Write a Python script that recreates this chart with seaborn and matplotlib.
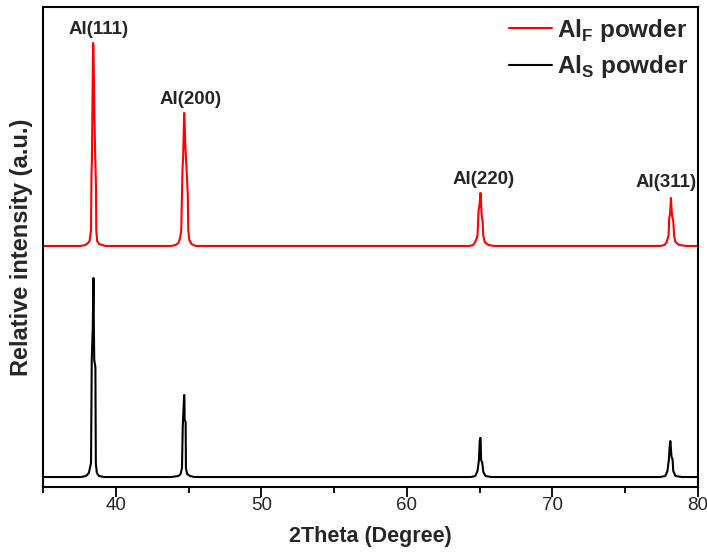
import numpy as np
import pandas as pd
import matplotlib
matplotlib.use("Agg")
import matplotlib.pyplot as plt
import matplotlib.transforms as mtransforms
import seaborn as sns
from matplotlib.ticker import MultipleLocator

# ---- data (intensity in arbitrary units) ----
two_theta_F = [35.0,
               37.6, 37.9, 38.1, 38.2, 38.3, 38.33, 38.36, 38.44, 38.47, 38.52, 38.58, 38.64, 38.66, 38.72, 38.85, 39.3,
               43.8, 44.1, 44.3, 44.42, 44.5, 44.58, 44.63, 44.7, 44.72, 44.78, 44.88, 44.95, 44.98, 45.05, 45.2, 45.5,
               64.3, 64.55, 64.7, 64.85, 64.92, 64.98, 65.06, 65.09, 65.13, 65.2, 65.25, 65.35, 65.6, 66.0,
               77.4, 77.7, 77.85, 77.98, 78.02, 78.08, 78.14, 78.17, 78.22, 78.3, 78.36, 78.45, 78.7, 79.2,
               80.0]
intensity_F = [0,
               0, 1, 3, 5, 16, 70, 85, 203, 200, 140, 95, 60, 16, 5, 2, 0,
               0, 1, 3, 8, 16, 75, 90, 133, 128, 100, 72, 50, 16, 6, 2, 0,
               0, 1, 4, 10, 35, 40, 53, 45, 32, 25, 10, 4, 1, 0,
               0, 1, 4, 11, 28, 32, 48, 40, 30, 25, 10, 4, 1, 0,
               0]

two_theta_S = [35.0,
               37.6, 37.95, 38.15, 38.3, 38.35, 38.42, 38.47, 38.49, 38.52, 38.6, 38.63, 38.7, 38.85, 39.2,
               43.8, 44.3, 44.45, 44.55, 44.6, 44.66, 44.7, 44.72, 44.73, 44.8, 44.82, 44.9, 45.1, 45.4,
               64.4, 64.7, 64.85, 64.95, 65.0, 65.03, 65.06, 65.1, 65.18, 65.25, 65.4, 65.8,
               77.4, 77.75, 77.9, 78.0, 78.05, 78.1, 78.13, 78.18, 78.25, 78.3, 78.45, 78.9,
               80.0]
intensity_S = [0,
               0, 1, 4, 14, 117, 150, 199, 160, 117, 110, 14, 4, 1, 0,
               0, 1, 3, 9, 50, 70, 82, 75, 57, 55, 9, 3, 1, 0,
               0, 1, 6, 17, 35, 39, 39, 17, 14, 5, 1, 0,
               0, 1, 6, 18, 30, 36, 30, 20, 18, 6, 1, 0,
               0]

offset_F = 231  # vertical stacking offset of the Al_F pattern

peak_labels = ["Al(111)", "Al(200)", "Al(220)", "Al(311)"]
label_x = [38.85, 45.15, 65.3, 77.8]
label_y = [447, 377, 297, 294]

series_names = [r"Al$_\mathbf{F}$ powder", r"Al$_\mathbf{S}$ powder"]
colors = ["#ff0000", "#000000"]

# ---- build long table ----
df = pd.concat([
    pd.DataFrame({"2theta": two_theta_F,
                  "I": np.array(intensity_F, dtype=float) + offset_F,
                  "sample": series_names[0]}),
    pd.DataFrame({"2theta": two_theta_S,
                  "I": np.array(intensity_S, dtype=float),
                  "sample": series_names[1]}),
], ignore_index=True)

sns.set_theme(style="white")
plt.rcParams["font.family"] = ["Liberation Sans", "DejaVu Sans"]
plt.rcParams["mathtext.fontset"] = "custom"
plt.rcParams["mathtext.rm"] = "Liberation Sans"
plt.rcParams["mathtext.bf"] = "Liberation Sans:bold"

fig = plt.figure(figsize=(7.07, 5.55), dpi=100)
ax = fig.add_axes([0.0608, 0.1225, 0.9265, 0.865])

sns.lineplot(data=df, x="2theta", y="I", hue="sample", hue_order=series_names,
             palette=dict(zip(series_names, colors)), estimator=None, sort=False,
             linewidth=1.5, ax=ax)

ax.set_xlim(35, 80)
ax.set_ylim(-10, 470)
ax.xaxis.set_major_locator(MultipleLocator(10))
ax.xaxis.set_minor_locator(MultipleLocator(5))
ax.set_yticks([])
ax.tick_params(axis="x", which="major", direction="out", length=7, width=1.3,
               bottom=True, top=False, labelsize=13.5, pad=0, color="black")
ax.tick_params(axis="x", which="minor", direction="out", length=4.5, width=1.3,
               bottom=True, top=False, color="black")
for s in ax.spines.values():
    s.set_color("black")
    s.set_linewidth(1.5)

ax.set_xlabel("2Theta (Degree)", fontsize=15.5, fontweight="bold", labelpad=9)
ax.set_ylabel("Relative intensity (a.u.)", fontsize=17, fontweight="bold", labelpad=7)

# keep the last tick label ("80") inside the figure edge
fig.canvas.draw()
last = ax.get_xticklabels()[-1]
last.set_transform(last.get_transform() +
                   mtransforms.ScaledTranslation(-5 / 100, 0, fig.dpi_scale_trans))

for lab, x, y in zip(peak_labels, label_x, label_y):
    ax.text(x, y, lab, ha="center", va="center", fontsize=13.5, fontweight="bold")

leg = ax.legend(loc="upper right", frameon=False, fontsize=17.5, handlelength=1.8,
                handletextpad=0.2, labelspacing=0.4, borderaxespad=0.0)
for t in leg.get_texts():
    t.set_fontweight("bold")

fig.savefig("out.png", dpi=100)
